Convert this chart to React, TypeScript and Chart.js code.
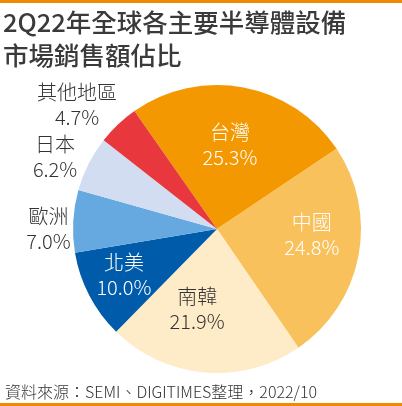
import React, { useEffect, useRef } from "react";
import { Chart, registerables } from "chart.js";

Chart.register(...registerables);

const TITLE_LINES = ["2Q22年全球各主要半導體設備", "市場銷售額佔比"];
const SOURCE = "資料來源：SEMI、DIGITIMES整理，2022/10";
const REGIONS = ["台灣", "中國", "南韓", "北美", "歐洲", "日本", "其他地區"];
const SHARES = [25.3, 24.8, 21.9, 10.0, 7.0, 6.2, 4.7];
const COLORS = ["#F39800", "#F8C15C", "#FEEBC8", "#005BAA", "#66A9E0", "#D2DDF2", "#E8383D"];
const LABEL_COLORS = ["#FFFFFF", "#FFFFFF", "#333333", "#FFFFFF", "#333333", "#333333", "#333333"];
// label placement: radius factor and angular nudge (degrees) relative to slice mid-angle
const LABEL_RADIUS = [0.59, 0.66, 0.57, 0.72, 1.17, 1.23, 1.3];
const LABEL_NUDGE = [-1.8, -7.3, 9, 1.4, -3.2, -3, -4.9];

const W = 402;
const H = 406;
const FONT = '"Noto Sans CJK TC", "Noto Sans", sans-serif';

const overlay = {
  id: "overlay",
  afterDraw(chart: any) {
    const ctx = chart.ctx as CanvasRenderingContext2D;
    ctx.save();
    // orange rules
    ctx.fillStyle = "#F08A00";
    ctx.fillRect(0, 0, W, 3);
    ctx.fillRect(0, H - 3, W, 3);
    // title
    ctx.fillStyle = "#3A3A3A";
    ctx.textAlign = "left";
    ctx.textBaseline = "middle";
    ctx.font = `500 25.5px ${FONT}`;
    ctx.fillText(TITLE_LINES[0], 3, 22);
    ctx.fillText(TITLE_LINES[1], 3, 55);
    // source
    ctx.font = `300 16px ${FONT}`;
    ctx.fillStyle = "#333333";
    ctx.fillText(SOURCE, 5, 392);
    // slice labels
    const meta = chart.getDatasetMeta(0);
    ctx.textAlign = "center";
    ctx.font = `300 20px ${FONT}`;
    meta.data.forEach((arc: any, i: number) => {
      const mid = (arc.startAngle + arc.endAngle) / 2 + (LABEL_NUDGE[i] * Math.PI) / 180;
      const r = arc.outerRadius * LABEL_RADIUS[i];
      const x = arc.x + Math.cos(mid) * r;
      const y = arc.y + Math.sin(mid) * r;
      ctx.fillStyle = LABEL_COLORS[i];
      ctx.fillText(REGIONS[i], x, y - 12.5);
      ctx.fillText(SHARES[i].toFixed(1) + "%", x, y + 12.5);
    });
    ctx.restore();
  },
};

export default function App() {
  const ref = useRef<HTMLCanvasElement | null>(null);
  useEffect(() => {
    document.body.style.margin = "0";
    const chart = new Chart(ref.current!, {
      type: "pie",
      data: {
        labels: REGIONS,
        datasets: [
          {
            data: SHARES,
            backgroundColor: COLORS,
            borderWidth: 0,
          },
        ],
      },
      options: {
        animation: false,
        responsive: false,
        rotation: -35,
        layout: { padding: { left: 73, right: 41, top: 85, bottom: 33 } },
        plugins: {
          legend: { display: false },
          tooltip: { enabled: false },
          title: { display: false },
        },
      },
      plugins: [overlay],
    });
    return () => chart.destroy();
  }, []);
  return (
    <div style={{ position: "fixed", left: 0, top: 0, width: W, height: H, background: "#fff" }}>
      <canvas ref={ref} width={W} height={H} style={{ display: "block" }} />
    </div>
  );
}
